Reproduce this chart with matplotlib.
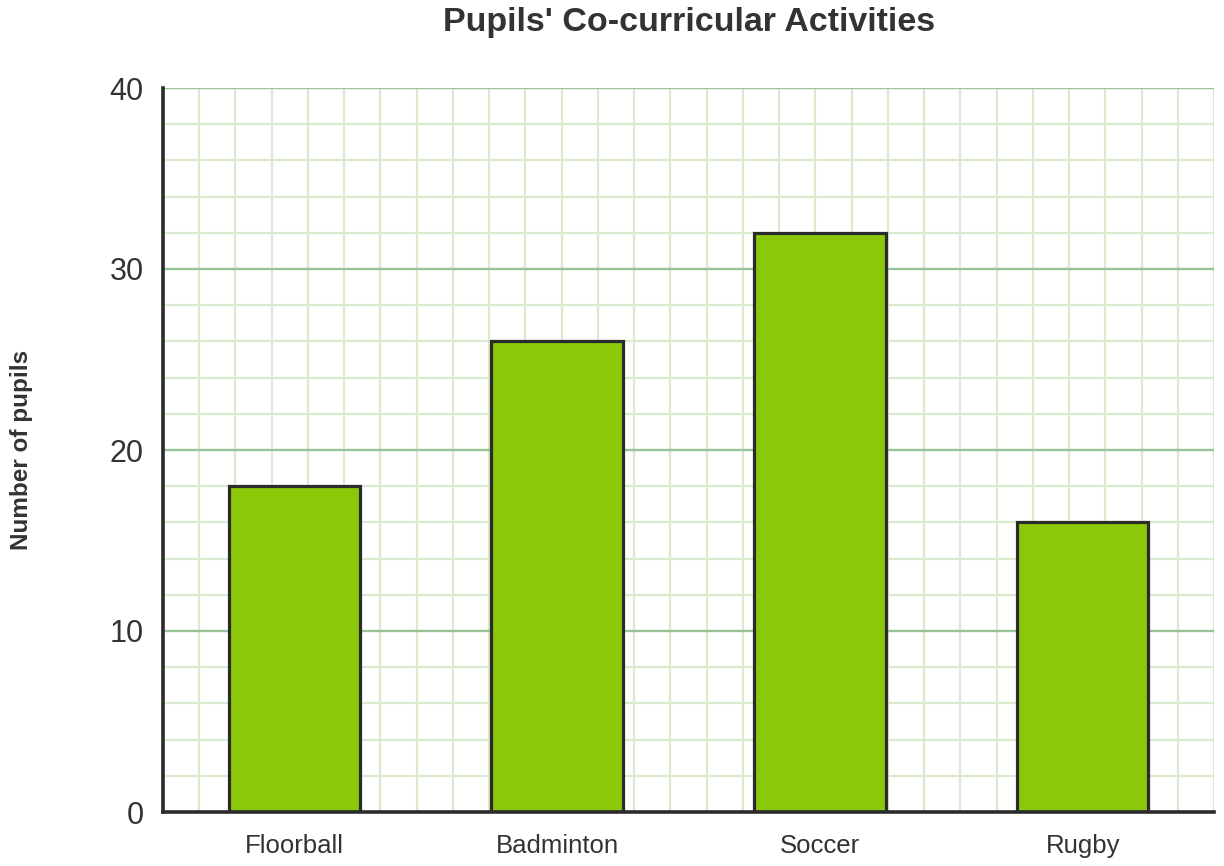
import numpy as np
import matplotlib
matplotlib.use('Agg')
import matplotlib.pyplot as plt

plt.rcParams['font.family'] = ['Liberation Sans', 'DejaVu Sans']

# data
activities = ['Floorball', 'Badminton', 'Soccer', 'Rugby']
pupils = [18, 26, 32, 16]
y_ticks = [0, 10, 20, 30, 40]


def draw_chart():
    fig = plt.figure(figsize=(12.24, 8.66), dpi=100)
    ax = fig.add_axes([163 / 1224, 54 / 866, 1051 / 1224, 724 / 866])

    x = np.arange(len(activities)) + 0.5
    ax.bar(x, pupils, 0.5, color='#8bc80a', edgecolor='#2b2b2b',
           linewidth=2.3, zorder=3)

    ax.set_xlim(0, len(activities))
    ax.set_ylim(0, 40)

    # square paper-like grid
    for gx in np.linspace(0, len(activities), 30)[1:]:
        ax.axvline(gx, color='#d9eace', lw=1.6, zorder=0)
    for gy in np.arange(2, 41, 2):
        if gy % 10 == 0:
            ax.axhline(gy, color='#97c399', lw=1.7, zorder=1)
        else:
            ax.axhline(gy, color='#d9eace', lw=1.6, zorder=0)

    ax.set_xticks(x)
    ax.set_xticklabels(activities, fontsize=18.5, color='#333333')
    ax.set_yticks(y_ticks)
    ax.set_yticklabels([str(v) for v in y_ticks], fontsize=22, color='#333333')
    ax.tick_params(length=0)
    ax.tick_params(axis='x', pad=16)
    ax.tick_params(axis='y', pad=14)

    for side in ['top', 'right']:
        ax.spines[side].set_visible(False)
    for side in ['left', 'bottom']:
        ax.spines[side].set_linewidth(2.6)
        ax.spines[side].set_color('#2b2b2b')
        ax.spines[side].set_zorder(4)

    fig.text(689 / 1224, 1 - 22 / 866, "Pupils' Co-curricular Activities",
             ha='center', va='center', fontsize=24.5, fontweight='bold',
             color='#333333')
    fig.text(22 / 1224, 1 - 450 / 866, 'Number of pupils', rotation=90,
             ha='center', va='center', fontsize=17.5, fontweight='bold',
             color='#333333')

    fig.savefig('out.png', dpi=100)


draw_chart()
